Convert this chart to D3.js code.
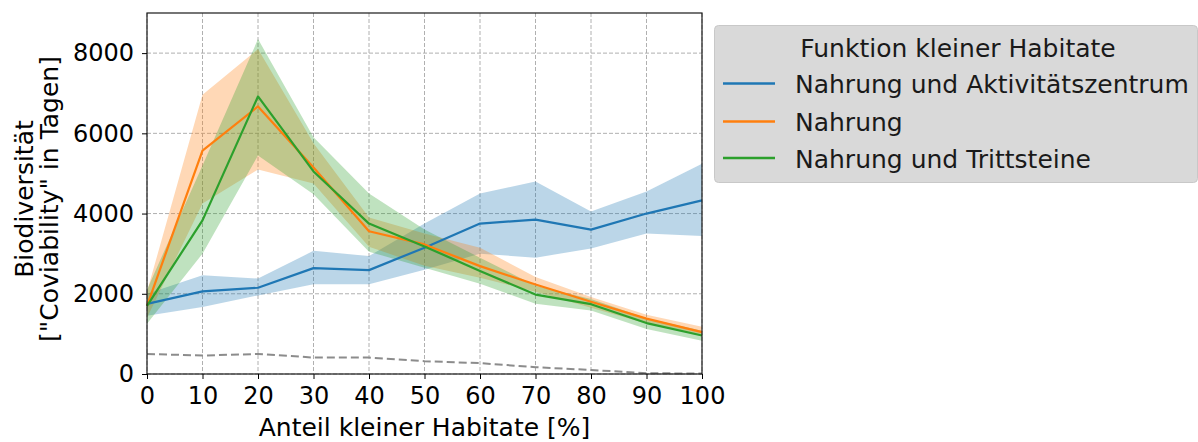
<!DOCTYPE html>
<html>
<head>
<meta charset="utf-8">
<script src="https://cdn.jsdelivr.net/npm/d3@7"></script>
<style>
  html, body { margin: 0; padding: 0; background: #ffffff; }
  svg { display: block; font-family: "DejaVu Sans", sans-serif; }
</style>
</head>
<body>
<svg id="chart" width="1198" height="442"></svg>
<script>
// ---- data ----
const shares = [0, 10, 20, 30, 40, 50, 60, 70, 80, 90, 100];

const seriesNames = ["Nahrung und Aktivitätszentrum", "Nahrung", "Nahrung und Trittsteine"];
const seriesColors = ["#1f77b4", "#ff7f0e", "#2ca02c"];

const aktMean  = [1750, 2060, 2150, 2640, 2590, 3150, 3750, 3850, 3600, 4000, 4330];
const aktLow   = [1450, 1670, 1960, 2240, 2240, 2600, 3000, 2900, 3130, 3500, 3440];
const aktHigh  = [2000, 2460, 2380, 3070, 2940, 3750, 4500, 4800, 4050, 4550, 5240];

const nahMean  = [1700, 5570, 6670, 5150, 3560, 3230, 2690, 2230, 1800, 1380, 1045];
const nahLow   = [1400, 4250, 5100, 4750, 3170, 2700, 2400, 2050, 1650, 1260, 950];
const nahHigh  = [2050, 6960, 8100, 5750, 3900, 3500, 3150, 2420, 1920, 1480, 1180];

const tritMean = [1700, 3830, 6920, 5050, 3750, 3180, 2570, 1980, 1740, 1270, 960];
const tritLow  = [1250, 3000, 5450, 4480, 3050, 2650, 2250, 1750, 1580, 1120, 830];
const tritHigh = [2100, 5200, 8350, 5900, 4500, 3600, 2900, 2200, 1870, 1390, 1080];

const baseline = [500, 460, 500, 410, 410, 320, 270, 170, 100, 20, 10];

const xTicks = [0, 10, 20, 30, 40, 50, 60, 70, 80, 90, 100];
const yTicks = [0, 2000, 4000, 6000, 8000];

const xLabel = "Anteil kleiner Habitate [%]";
const yLabelLines = ["Biodiversität", "[\"Coviability\" in Tagen]"];
const legendTitle = "Funktion kleiner Habitate";

// ---- layout ----
const svg = d3.select("#chart");
const pL = 147, pR = 702, pT = 13, pB = 374;
const fsTick = 24, fsLab = 25;

const x = d3.scaleLinear().domain([0, 100]).range([pL, pR]);
const y = d3.scaleLinear().domain([0, 9000]).range([pB, pT]);

// grid
const grid = svg.append("g");
grid.selectAll("line.gx").data(xTicks).join("line")
  .attr("x1", d => x(d)).attr("x2", d => x(d))
  .attr("y1", pT).attr("y2", pB)
  .attr("stroke", "#b0b0b0").attr("stroke-width", 1).attr("stroke-dasharray", "4,2");
grid.selectAll("line.gy").data(yTicks).join("line")
  .attr("x1", pL).attr("x2", pR)
  .attr("y1", d => y(d)).attr("y2", d => y(d))
  .attr("stroke", "#b0b0b0").attr("stroke-width", 1).attr("stroke-dasharray", "4,2");

// bands and lines
const series = [
  {mean: aktMean, low: aktLow, high: aktHigh},
  {mean: nahMean, low: nahLow, high: nahHigh},
  {mean: tritMean, low: tritLow, high: tritHigh}
];

const area = d3.area()
  .x(d => x(d.x)).y0(d => y(d.lo)).y1(d => y(d.hi));
const line = d3.line().x(d => x(d.x)).y(d => y(d.v));

series.forEach((s, i) => {
  const pts = shares.map((xv, k) => ({x: xv, lo: s.low[k], hi: s.high[k]}));
  svg.append("path").attr("d", area(pts))
    .attr("fill", seriesColors[i]).attr("fill-opacity", 0.3).attr("stroke", "none");
});
series.forEach((s, i) => {
  const pts = shares.map((xv, k) => ({x: xv, v: s.mean[k]}));
  svg.append("path").attr("d", line(pts))
    .attr("fill", "none").attr("stroke", seriesColors[i]).attr("stroke-width", 2.2)
    .attr("stroke-linejoin", "round");
});

// baseline dashed
svg.append("path")
  .attr("d", line(shares.map((xv, k) => ({x: xv, v: baseline[k]}))))
  .attr("fill", "none").attr("stroke", "#8c8c8c").attr("stroke-width", 2)
  .attr("stroke-dasharray", "8,4");

// frame
svg.append("rect").attr("x", pL).attr("y", pT)
  .attr("width", pR - pL).attr("height", pB - pT)
  .attr("fill", "none").attr("stroke", "#1a1a1a").attr("stroke-width", 1.2);

// axes
const xAxis = svg.append("g").attr("transform", `translate(0,${pB})`)
  .call(d3.axisBottom(x).tickValues(xTicks).tickSize(5).tickPadding(8).tickFormat(d3.format("d")));
const yAxis = svg.append("g").attr("transform", `translate(${pL},0)`)
  .call(d3.axisLeft(y).tickValues(yTicks).tickSize(5).tickPadding(8).tickFormat(d3.format("d")));
[xAxis, yAxis].forEach(a => {
  a.select(".domain").remove();
  a.selectAll("text").attr("font-size", fsTick).attr("font-family", "DejaVu Sans").attr("fill", "#000");
  a.selectAll("line").attr("stroke", "#000");
});

// axis labels
svg.append("text").attr("x", (pL + pR) / 2).attr("y", 436)
  .attr("text-anchor", "middle").attr("font-size", fsLab).text(xLabel);

const yl = svg.append("text").attr("transform", `translate(0,199) rotate(-90)`)
  .attr("text-anchor", "middle").attr("font-size", fsLab);
yl.append("tspan").attr("x", 0).attr("y", 33).text(yLabelLines[0]);
yl.append("tspan").attr("x", 0).attr("y", 58).text(yLabelLines[1]);

// legend
const lg = svg.append("g");
lg.append("rect").attr("x", 714.5).attr("y", 25.5).attr("width", 483).attr("height", 157)
  .attr("rx", 4).attr("fill", "#d9d9d9").attr("stroke", "#c8c8c8").attr("stroke-width", 1);
lg.append("text").attr("x", 958).attr("y", 57).attr("text-anchor", "middle")
  .attr("font-size", fsLab).attr("fill", "#1a1a1a").text(legendTitle);
const rowY = [83.5, 121.5, 158];
seriesNames.forEach((n, i) => {
  lg.append("line").attr("x1", 723).attr("x2", 775).attr("y1", rowY[i]).attr("y2", rowY[i])
    .attr("stroke", seriesColors[i]).attr("stroke-width", 2.5);
  lg.append("text").attr("x", 795).attr("y", rowY[i] + 9.5).attr("font-size", fsLab)
    .attr("fill", "#1a1a1a").text(n);
});
</script>
</body>
</html>
